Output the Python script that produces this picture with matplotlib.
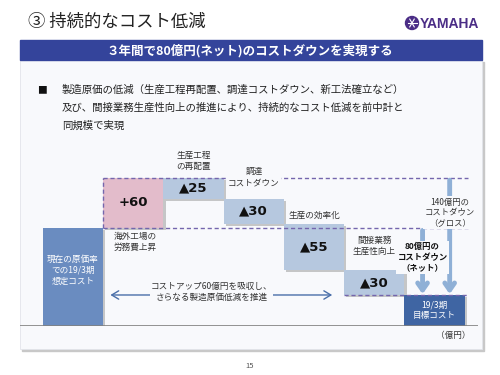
import numpy as np
import matplotlib.pyplot as plt
from matplotlib.patches import Rectangle, Circle
import matplotlib.patheffects as pe

plt.rcParams['font.family'] = ['Noto Sans CJK JP', 'DejaVu Sans']

# --- data ---
base_cost = 117          # 現在の原価率での19/3期想定コスト (estimated)
steps = [60, -25, -30, -55, -30]
step_labels = ['+60', '▲25', '▲30', '▲55', '▲30']
step_names = ['海外工場の\n労務費上昇', '生産工程\nの再配置', '調達\nコストダウン',
              '生産の効率化', '間接業務\n生産性向上']
gross_down = 140
net_down = 80

title = '③ 持続的なコスト低減'
banner = '３年間で80億円(ネット)のコストダウンを実現する'
bullet_lines = ['製造原価の低減（生産工程再配置、調達コストダウン、新工法確立など）',
                '及び、間接業務生産性向上の推進により、持続的なコスト低減を前中計と',
                '同規模で実現']

# colours
c_base = '#6a8cc0'
c_up = '#e3bccb'
c_down = '#b6c8df'
c_target = '#3f65a3'
c_dash = '#7466ad'
c_arrow = '#8fb0d6'
c_harrow = '#4a6fa9'
panel_c = '#f8f9fc'

fig = plt.figure(figsize=(5, 3.75), dpi=100)
fig.patch.set_facecolor('white')

# background axes in pixel coordinates
bg = fig.add_axes([0, 0, 1, 1])
bg.set_xlim(0, 500)
bg.set_ylim(375, 0)
bg.axis('off')

bg.text(28, 22, title, fontsize=12.5, va='center', ha='left', color='#222222')

# logo
bg.add_patch(Circle((412, 23), 6.5, color='#4b2d86'))
for a in np.linspace(0, np.pi, 3, endpoint=False):
    bg.plot([412 - 4.5 * np.cos(a), 412 + 4.5 * np.cos(a)],
            [23 - 4.5 * np.sin(a), 23 + 4.5 * np.sin(a)], color='white', lw=0.8)
bg.text(420, 23.5, 'YAMAHA', fontsize=10, fontweight='bold', color='#4b2d86',
        family='Liberation Sans', va='center', ha='left')

# panel with shadow
bg.add_patch(Rectangle((22, 62), 462, 289, color='#c8c8c8', zorder=0))
bg.add_patch(Rectangle((20, 60), 462, 289, facecolor=panel_c, edgecolor='#e2e4ea',
                       lw=0.6, zorder=0.5))
bg.add_patch(Rectangle((20, 40), 462, 20, color='#34449b', zorder=1))
bg.text(250, 50.5, banner, fontsize=9, fontweight='bold', color='white',
        ha='center', va='center', zorder=2)

bg.text(42, 90, '■', fontsize=7, ha='center', va='center', color='#111111')
for i, line in enumerate(bullet_lines):
    bg.text(62, 90 + 18 * i, line, fontsize=7.5, ha='left', va='center', color='#222222')

bg.text(470, 335, '（億円）', fontsize=6.2, ha='right', va='center', color='#333333')
bg.text(250, 366, '15', fontsize=5.5, ha='center', va='center', color='#555555')

# --- waterfall chart ---
x0_px, x1_px, top_px, bot_px = 20, 478, 150, 326
ax = fig.add_axes([x0_px / 500, 1 - bot_px / 375,
                   (x1_px - x0_px) / 500, (bot_px - top_px) / 375])
ax.set_facecolor('none')
ax.set_xlim(-0.88, 6.72)
ax.set_ylim(0, 210)
ax.axis('off')

levels = base_cost + np.concatenate([[0], np.cumsum(steps)])
target = levels[-1]
top = levels.max()

shadow = [pe.withSimplePatchShadow(offset=(1.5, -1.5), shadow_rgbFace='#888888', alpha=0.45)]

ax.bar(0, base_cost, width=1, color=c_base, path_effects=shadow, zorder=3)
for i, s in enumerate(steps):
    x = i + 1
    lo, hi = sorted([levels[i], levels[i + 1]])
    ax.bar(x, hi - lo, bottom=lo, width=1, color=c_up if s > 0 else c_down,
           path_effects=shadow, zorder=3)
    ax.text(x, (lo + hi) / 2, step_labels[i], fontsize=9.5, fontweight='bold',
            family=['DejaVu Sans'], ha='center', va='center', color='#111111', zorder=5)
ax.bar(6, target, width=1, color=c_target, path_effects=shadow, zorder=3)

ax.axhline(0, color='#808080', lw=1.2, zorder=4)

ax.text(0, base_cost * 0.57, '現在の原価率\nでの19/3期\n想定コスト', color='white',
        fontsize=6.2, ha='center', va='center', linespacing=1.25, zorder=5)
ax.text(6, target / 2, '19/3期\n目標コスト', color='white', fontsize=6.2,
        ha='center', va='center', linespacing=1.25, zorder=5)

# dashed guide lines
dash = dict(color=c_dash, lw=1, ls=(0, (3, 2)), zorder=4)
ax.plot([0.5, 6.55], [top, top], **dash)
ax.plot([0.5, 6.55], [base_cost, base_cost], **dash)
ax.plot([0.5, 0.5], [base_cost, top], **dash)
ax.plot([4.5, 6.55], [target, target], **dash)

# step names
lbl = dict(fontsize=6.2, color='#333333', linespacing=1.3, zorder=6)
ax.annotate(step_names[0], (0.67, base_cost), xytext=(0, -3), textcoords='offset points',
            ha='left', va='top', **lbl)
offsets = [5, 8, 3, 10]
for k, off in enumerate(offsets):
    x = k + 2
    ax.annotate(step_names[k + 1], (x, levels[k + 1]), xytext=(0, off),
                textcoords='offset points', ha='center', va='bottom',
                bbox=dict(boxstyle='square,pad=0.1', fc=panel_c, ec='none'), **lbl)

# gross / net arrows
ax.annotate('', xy=(6.25, target + 1), xytext=(6.25, top - 3),
            arrowprops=dict(arrowstyle='->,head_length=0.5,head_width=0.35',
                            color=c_arrow, lw=3.5, shrinkA=0, shrinkB=0), zorder=5)
ax.annotate('', xy=(5.8, target + 1), xytext=(5.8, base_cost - 3),
            arrowprops=dict(arrowstyle='->,head_length=0.5,head_width=0.35',
                            color=c_arrow, lw=3.5, shrinkA=0, shrinkB=0), zorder=5)
ax.text(6.25, top - 42, f'{gross_down}億円の\nコストダウン\n（グロス）', fontsize=6,
        ha='center', va='center', color='#333333', linespacing=1.25, zorder=6,
        bbox=dict(boxstyle='square,pad=0.15', fc=panel_c, ec='none'))
ax.text(5.8, base_cost - 35, f'{net_down}億円の\nコストダウン\n（ネット）', fontsize=6,
        fontweight='bold', ha='center', va='center', color='#111111', linespacing=1.25,
        zorder=6, bbox=dict(boxstyle='square,pad=0.15', fc=panel_c, ec='none'))

# horizontal double arrow
ax.annotate('', xy=(0.62, target), xytext=(4.3, target),
            arrowprops=dict(arrowstyle='<->,head_length=0.5,head_width=0.3',
                            color=c_harrow, lw=1, shrinkA=0, shrinkB=0), zorder=5)
ax.text(2.3, target + 4, 'コストアップ60億円を吸収し、\nさらなる製造原価低減を推進',
        fontsize=6.2, ha='center', va='center', color='#333333', linespacing=1.3, zorder=6,
        bbox=dict(boxstyle='square,pad=0.1', fc=panel_c, ec='none'))

fig.savefig('out.png', dpi=100)
